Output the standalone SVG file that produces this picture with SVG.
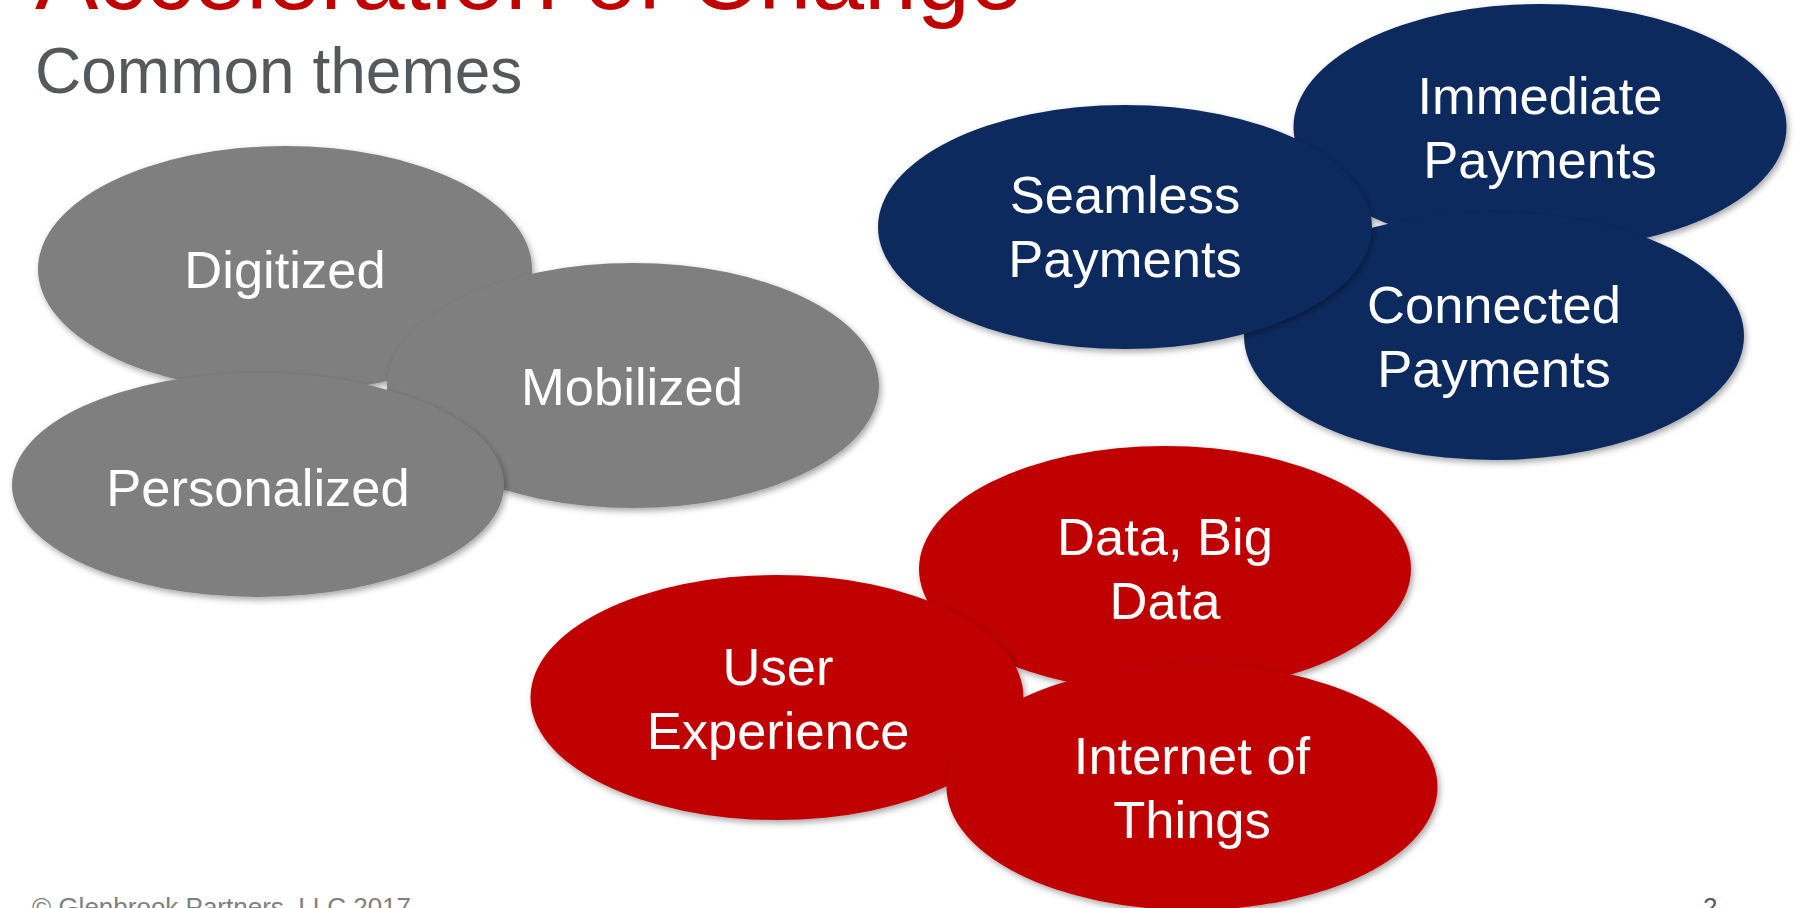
<svg xmlns="http://www.w3.org/2000/svg" width="1796" height="908" viewBox="0 0 1796 908">
<defs>
<filter id="sh" x="-10%" y="-10%" width="125%" height="130%">
<feDropShadow dx="2" dy="3" stdDeviation="3" flood-color="#000" flood-opacity="0.35"/>
</filter>
<style>
.g{fill:#7F7F7F;filter:url(#sh)}
.b{fill:#0B2A5F;filter:url(#sh)}
.r{fill:#C00000;filter:url(#sh)}
.t{font-family:"Liberation Sans",Arial,sans-serif;font-size:52.5px;fill:#FFFFFF;text-anchor:middle}
</style>
</defs>
<rect width="1796" height="908" fill="#FFFFFF"/>
<text x="35" y="9" font-family="Liberation Sans, Arial, sans-serif" font-size="95" fill="#C00000">Acceleration of Change</text>
<text x="35" y="93" font-family="Liberation Sans, Arial, sans-serif" font-size="64" fill="#55595C">Common themes</text>

<g id="connectors"/>

<g id="digitized"><ellipse class="g" cx="285" cy="269" rx="247" ry="123"/><text class="t" x="285" y="288">Digitized</text></g>
<g id="mobilized"><ellipse class="g" cx="633" cy="385.5" rx="246" ry="122.5"/><text class="t" x="632" y="405">Mobilized</text></g>
<g id="personalized"><ellipse class="g" cx="258" cy="485" rx="246" ry="112"/><text class="t" x="258" y="506">Personalized</text></g>

<g id="immediate"><ellipse class="b" cx="1540" cy="127" rx="246.5" ry="123"/><text class="t" x="1540" y="114">Immediate</text><text class="t" x="1540" y="178">Payments</text></g>
<g id="connected"><ellipse class="b" cx="1494" cy="336" rx="250" ry="124"/><text class="t" x="1494" y="323">Connected</text><text class="t" x="1494" y="387">Payments</text></g>
<g id="seamless"><ellipse class="b" cx="1125" cy="227" rx="247" ry="122"/><text class="t" x="1125" y="213">Seamless</text><text class="t" x="1125" y="277">Payments</text></g>

<g id="data"><ellipse class="r" cx="1165" cy="569" rx="246" ry="123"/><text class="t" x="1165" y="555">Data, Big</text><text class="t" x="1165" y="619">Data</text></g>
<g id="user"><ellipse class="r" cx="777" cy="697.5" rx="246.5" ry="122.5"/><text class="t" x="778" y="684.5">User</text><text class="t" x="778" y="748.5">Experience</text></g>
<g id="iot"><ellipse class="r" cx="1192" cy="787" rx="245.5" ry="123"/><text class="t" x="1192" y="774">Internet of</text><text class="t" x="1192" y="838">Things</text></g>

<text x="32" y="915.5" font-family="Liberation Sans, Arial, sans-serif" font-size="26" fill="#808080">© Glenbrook Partners, LLC 2017</text>
<text x="1703" y="915.5" font-family="Liberation Sans, Arial, sans-serif" font-size="26" fill="#595959">2</text>
</svg>
